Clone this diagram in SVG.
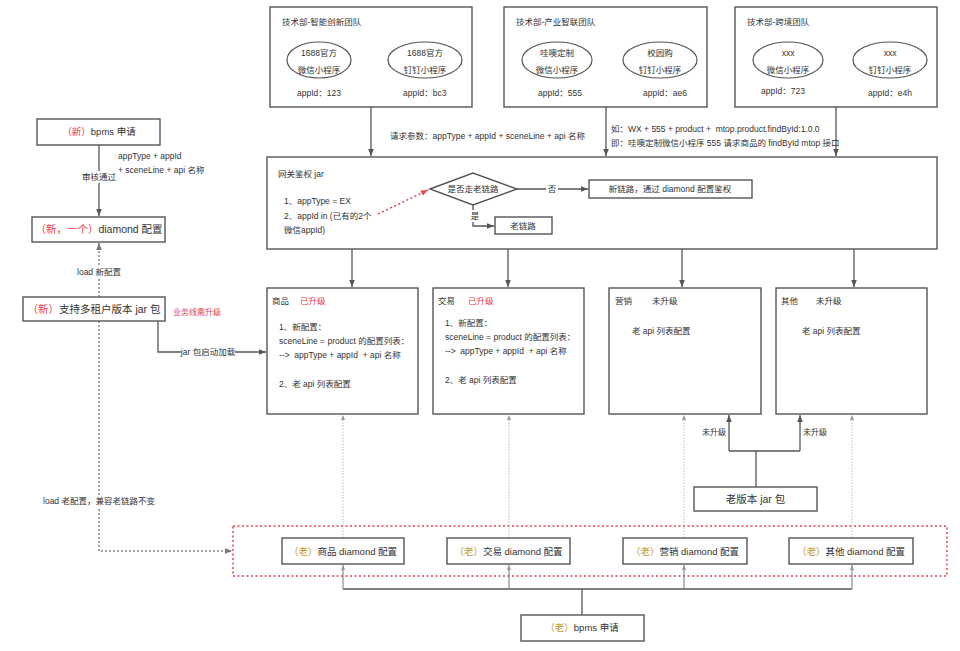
<svg xmlns="http://www.w3.org/2000/svg" width="960" height="651" viewBox="0 0 960 651">
<defs>
<style>
text{font-family:"Liberation Sans","Noto Sans CJK SC",sans-serif;fill:#333;font-size:8.5px}
.box{fill:#fff;stroke:#555;stroke-width:1.4}
.ell{fill:#fff;stroke:#555;stroke-width:1.2}
.ln{fill:none;stroke:#555;stroke-width:1.3}
.dot{fill:none;stroke:#888;stroke-width:1.5;stroke-dasharray:2 2}
.gdot{fill:none;stroke:#aaa;stroke-width:0.8;stroke-dasharray:1.5 1.5}
.reddot{fill:none;stroke:#e8414d;stroke-width:1.5;stroke-dasharray:2 2.5}
.bg{fill:#fff}
.red{fill:#e8414d}
.gold{fill:#c39a2a}
.c{text-anchor:middle}
.e{text-anchor:end}
.m{font-size:9.5px}
.l{font-size:10.5px}
.s{font-size:8px}
</style>
<marker id="ah" viewBox="0 0 10 10" refX="10" refY="5" markerWidth="7" markerHeight="7" orient="auto" markerUnits="userSpaceOnUse"><path d="M0,1 L10,5 L0,9 z" fill="#555"/></marker>
<marker id="ahg" viewBox="0 0 10 10" refX="10" refY="5" markerWidth="5" markerHeight="5" orient="auto" markerUnits="userSpaceOnUse"><path d="M0,1 L10,5 L0,9 z" fill="#999"/></marker>
<marker id="ahd" viewBox="0 0 10 10" refX="10" refY="5" markerWidth="7" markerHeight="7" orient="auto" markerUnits="userSpaceOnUse"><path d="M0,1 L10,5 L0,9 z" fill="#777"/></marker>
<marker id="ahr" viewBox="0 0 10 10" refX="10" refY="5" markerWidth="7" markerHeight="7" orient="auto" markerUnits="userSpaceOnUse"><path d="M0,1 L10,5 L0,9 z" fill="#e8414d"/></marker>
</defs>
<rect width="960" height="651" fill="#fff"/>

<g id="gateway">
<rect class="box" x="267" y="157" width="670" height="92"/>
<text x="278" y="177">网关鉴权 jar</text>
<text x="284" y="204">1、appType = EX</text>
<text x="284" y="219">2、appId in (已有的2个</text>
<text x="284" y="233">微信appId)</text>
</g>

<g id="old-configs">
<rect class="reddot" x="233" y="526" width="714" height="50"/>
</g>

<g id="connectors">
<path class="ln" d="M371,107 V156" marker-end="url(#ah)"/>
<path class="ln" d="M606,107 V156" marker-end="url(#ah)"/>
<path class="ln" d="M836,107 V156" marker-end="url(#ah)"/>
<path class="ln" d="M352,249 V287" marker-end="url(#ah)"/>
<path class="ln" d="M508,249 V287" marker-end="url(#ah)"/>
<path class="ln" d="M682,249 V287" marker-end="url(#ah)"/>
<path class="ln" d="M854,249 V287" marker-end="url(#ah)"/>
<path class="ln" d="M517,189 H588" marker-end="url(#ah)"/>
<path class="ln" d="M473,205 V226 H494" marker-end="url(#ah)"/>
<path fill="none" stroke="#e8414d" stroke-width="1.5" stroke-dasharray="2 2.5" d="M378,214 L428,190" marker-end="url(#ahr)"/>
<path class="ln" d="M99,145 V216" marker-end="url(#ah)"/>
<path class="dot" d="M99,297 V243" marker-end="url(#ahd)"/>
<path class="ln" d="M158,321 V352 H266" marker-end="url(#ah)"/>
<path class="dot" d="M99,321 V551 H232" marker-end="url(#ahd)"/>
<path class="gdot" d="M343,538 V415" marker-end="url(#ahg)"/>
<path class="gdot" d="M509,538 V415" marker-end="url(#ahg)"/>
<path class="gdot" d="M684,538 V415" marker-end="url(#ahg)"/>
<path class="gdot" d="M852,538 V415" marker-end="url(#ahg)"/>
<path class="ln" d="M756,487 V451 M729,451 H800"/>
<path class="ln" d="M729,451 V415" marker-end="url(#ah)"/>
<path class="ln" d="M800,451 V415" marker-end="url(#ah)"/>
<path class="ln" d="M582,615 V589 M343,589 H852"/>
<path fill="none" stroke="#777" stroke-width="1" d="M343,589 V565" marker-end="url(#ahg)"/>
<path fill="none" stroke="#777" stroke-width="1" d="M509,589 V565" marker-end="url(#ahg)"/>
<path fill="none" stroke="#777" stroke-width="1" d="M684,589 V565" marker-end="url(#ahg)"/>
<path fill="none" stroke="#777" stroke-width="1" d="M852,589 V565" marker-end="url(#ahg)"/>
<rect class="bg" x="80" y="171" width="38" height="12"/>
<text class="c" x="99" y="180">审核通过</text>
<rect class="bg" x="76" y="266" width="46" height="12"/>
<text class="c" x="99" y="275">load 新配置</text>
<rect class="bg" x="181" y="346" width="54" height="12"/>
<text class="c" x="208" y="355">jar 包启动加载</text>
<rect class="bg" x="45" y="495" width="108" height="12"/>
<text class="c" x="99" y="504">load 老配置，兼容老链路不变</text>
<rect class="bg" x="546" y="183" width="12" height="12"/>
<text class="c" x="552" y="192">否</text>
<rect class="bg" x="468" y="210" width="14" height="12"/>
<text class="c" x="475" y="219">是</text>
<text x="118" y="159">appType + appId</text>
<text x="118" y="173">+ sceneLine + api 名称</text>
<text x="390" y="139">请求参数：appType + appId + sceneLine + api 名称</text>
<text x="611" y="132" xml:space="preserve">如：WX + 555 + product +  mtop.product.findById:1.0.0</text>
<text x="611" y="146" font-size="8.2">即：哇噢定制微信小程序 555 请求商品的 findById mtop 接口</text>
<text class="e s" x="726" y="435">未升级</text>
<text class="s" x="803" y="435">未升级</text>
<text class="red s" x="173" y="315">业务线需升级</text>
</g>

<g id="team1">
<rect class="box" x="270" y="7" width="202" height="100"/>
<text x="282" y="25">技术部-智能创新团队</text>
<ellipse class="ell" cx="319" cy="60" rx="32" ry="18"/>
<text class="c" x="319" y="56">1688官方</text>
<text class="c" x="319" y="73">微信小程序</text>
<ellipse class="ell" cx="425" cy="60" rx="37" ry="18"/>
<text class="c" x="425" y="56">1688官方</text>
<text class="c" x="425" y="73">钉钉小程序</text>
<text x="297" y="96">appId：123</text>
<text x="403" y="96">appId：bc3</text>
</g>

<g id="team2">
<rect class="box" x="504" y="7" width="203" height="100"/>
<text x="516" y="25">技术部-产业智联团队</text>
<ellipse class="ell" cx="557" cy="60" rx="35" ry="18"/>
<text class="c" x="557" y="56">哇噢定制</text>
<text class="c" x="557" y="73">微信小程序</text>
<ellipse class="ell" cx="660" cy="60" rx="37" ry="18"/>
<text class="c" x="660" y="56">校园购</text>
<text class="c" x="660" y="73">钉钉小程序</text>
<text x="538" y="96">appId：555</text>
<text x="643" y="96">appId：ae6</text>
</g>

<g id="team3">
<rect class="box" x="735" y="7" width="202" height="100"/>
<text x="747" y="25">技术部-跨境团队</text>
<ellipse class="ell" cx="788" cy="60" rx="35" ry="18"/>
<text class="c" x="788" y="56">xxx</text>
<text class="c" x="788" y="73">微信小程序</text>
<ellipse class="ell" cx="890" cy="60" rx="37" ry="18"/>
<text class="c" x="890" y="56">xxx</text>
<text class="c" x="890" y="73">钉钉小程序</text>
<text x="761" y="94">appId：723</text>
<text x="868" y="96">appId：e4h</text>
</g>

<g id="decision">
<polygon class="box" points="430,189 473,173 517,189 473,205"/>
<text class="c" x="473" y="192">是否走老链路</text>
</g>

<g id="new-route">
<rect class="box" x="589" y="180" width="163" height="18"/>
<text class="c" x="670" y="192">新链路，通过 diamond 配置鉴权</text>
</g>

<g id="old-route">
<rect class="box" x="495" y="217" width="57" height="17"/>
<text class="c" x="523" y="229">老链路</text>
</g>

<g id="product">
<rect class="box" x="267" y="288" width="151" height="126"/>
<text x="272" y="304">商品</text>
<text class="red" x="300" y="304">已升级</text>
<text x="279" y="330">1、新配置：</text>
<text x="279" y="344">sceneLine = product 的配置列表：</text>
<text x="279" y="358" xml:space="preserve">-->  appType + appId  + api 名称</text>
<text x="279" y="387">2、老 api 列表配置</text>
</g>

<g id="trade">
<rect class="box" x="433" y="288" width="151" height="126"/>
<text x="438" y="304">交易</text>
<text class="red" x="468" y="304">已升级</text>
<text x="445" y="326">1、新配置：</text>
<text x="445" y="340">sceneLine = product 的配置列表：</text>
<text x="445" y="354" xml:space="preserve">-->  appType + appId  + api 名称</text>
<text x="445" y="383">2、老 api 列表配置</text>
</g>

<g id="marketing">
<rect class="box" x="609" y="288" width="152" height="126"/>
<text x="615" y="304">营销</text>
<text x="652" y="304">未升级</text>
<text x="632" y="334">老 api 列表配置</text>
</g>

<g id="other">
<rect class="box" x="776" y="288" width="151" height="126"/>
<text x="781" y="304">其他</text>
<text x="816" y="304">未升级</text>
<text x="802" y="334">老 api 列表配置</text>
</g>

<g id="new-bpms">
<rect class="box" x="37" y="119" width="123" height="26"/>
<text class="c m" x="99" y="135"><tspan class="red">（新）</tspan>bpms 申请</text>
</g>

<g id="new-diamond">
<rect class="box" x="32" y="217" width="133" height="25"/>
<text class="c l" x="99" y="233"><tspan class="red">（新，一个）</tspan>diamond 配置</text>
</g>

<g id="new-jar">
<rect class="box" x="23" y="297" width="142" height="24"/>
<text class="c l" x="94" y="313"><tspan class="red">（新）</tspan>支持多租户版本 jar 包</text>
</g>

<g id="old-product-diamond">
<rect class="box" x="282" y="538" width="122" height="26" stroke="#888"/>
<text class="c m" x="343" y="555"><tspan class="gold">（老）</tspan>商品 diamond 配置</text>
</g>
<g id="old-trade-diamond">
<rect class="box" x="447" y="538" width="123" height="26" stroke="#888"/>
<text class="c m" x="508.5" y="555"><tspan class="gold">（老）</tspan>交易 diamond 配置</text>
</g>
<g id="old-marketing-diamond">
<rect class="box" x="623" y="538" width="124" height="26" stroke="#888"/>
<text class="c m" x="685" y="555"><tspan class="gold">（老）</tspan>营销 diamond 配置</text>
</g>
<g id="old-other-diamond">
<rect class="box" x="789" y="538" width="124" height="26" stroke="#888"/>
<text class="c m" x="851" y="555"><tspan class="gold">（老）</tspan>其他 diamond 配置</text>
</g>

<g id="old-jar">
<rect class="box" x="694" y="487" width="123" height="24"/>
<text class="c l" x="755.5" y="503">老版本 jar 包</text>
</g>

<g id="old-bpms">
<rect class="box" x="521" y="615" width="123" height="26" stroke="#888"/>
<text class="c m" x="582" y="631"><tspan class="gold">（老）</tspan>bpms 申请</text>
</g>
</svg>
